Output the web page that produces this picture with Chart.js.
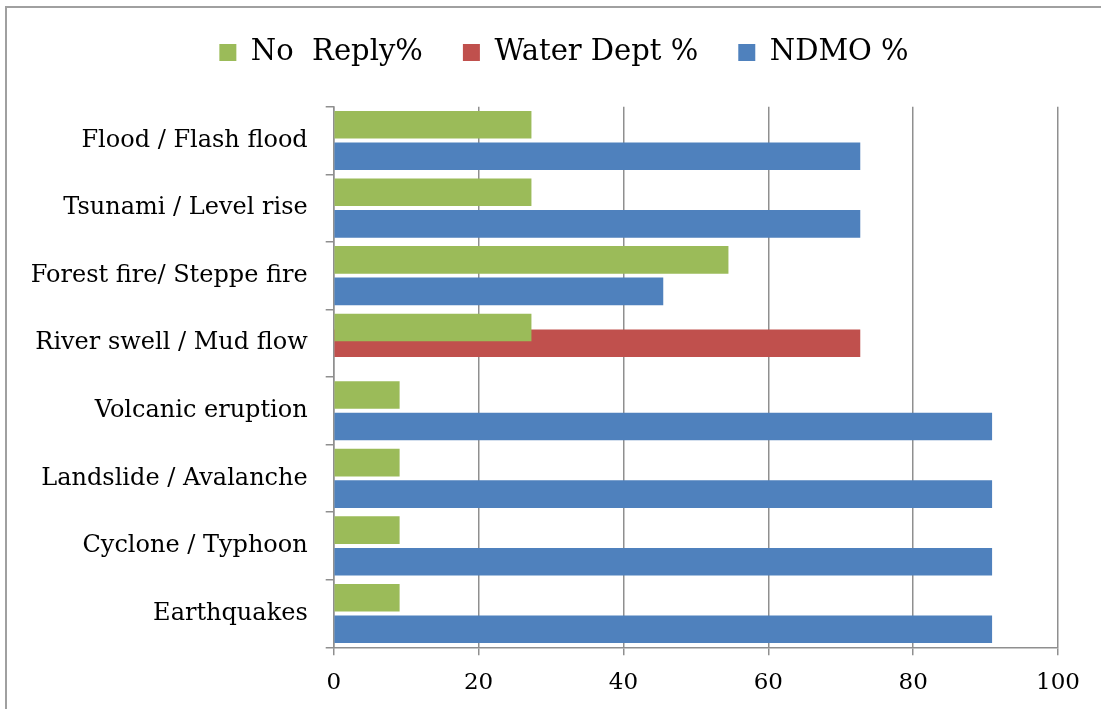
<!DOCTYPE html>
<html>
<head>
<meta charset="utf-8">
<script src="https://cdn.jsdelivr.net/npm/chart.js@4.4.1/dist/chart.umd.min.js"></script>
<style>
  body { margin: 0; background: #fff; overflow: hidden; }
  #frame { position: absolute; left: 5px; top: 6px; width: 1200px; height: 800px; border: 2px solid #a0a0a0; pointer-events: none; }
  #myChart { position: absolute; left: 0; top: 0; }
</style>
</head>
<body>
<canvas id="myChart" width="1101" height="709"></canvas>
<div id="frame"></div>
<script>
const categories = ['Flood / Flash flood', 'Tsunami / Level rise', 'Forest fire/ Steppe fire', 'River swell / Mud flow',
  'Volcanic eruption', 'Landslide / Avalanche', 'Cyclone / Typhoon', 'Earthquakes'];
const noReply = [27.3, 27.3, 54.5, 27.3, 9.1, 9.1, 9.1, 9.1];
const waterDept = [null, null, null, 72.7, null, null, null, null];
const ndmo = [72.7, 72.7, 45.5, null, 90.9, 90.9, 90.9, 90.9];
const xTicks = [0, 20, 40, 60, 80, 100];

const fontFamily = '"DejaVu Serif", serif';
const gridColor = '#8f8f8f';

// push the plot down below the legend and nudge the legend to the right
const legendMargin = {
  id: 'legendMargin',
  beforeInit(chart) {
    const fit = chart.legend.fit;
    chart.legend.fit = function () {
      fit.bind(chart.legend)();
      this.height += 29.7;
    };
  },
  afterLayout(chart) {
    chart.legend.left += 70;
  }
};

const ctx = document.getElementById('myChart');

const myChart = new Chart(ctx, {
  type: 'bar',
  data: {
    labels: categories,
    datasets: [
      { label: 'No  Reply%', data: noReply, backgroundColor: '#9bbb59' },
      { label: 'Water Dept %', data: waterDept, backgroundColor: '#c0504d' },
      { label: 'NDMO %', data: ndmo, backgroundColor: '#4f81bd' }
    ]
  },
  options: {
    responsive: false,
    animation: false,
    indexAxis: 'y',
    categoryPercentage: 0.70,
    barPercentage: 1.75,
    layout: { padding: { left: 0, right: 43, top: -2, bottom: 0 } },
    plugins: {
      legend: {
        position: 'top',
        labels: {
          boxWidth: 17,
          boxHeight: 17,
          padding: 40,
          color: '#000',
          font: { family: fontFamily, size: 29 }
        }
      },
      tooltip: { enabled: false }
    },
    scales: {
      x: {
        min: 0,
        max: 100,
        afterBuildTicks: scale => { scale.ticks = xTicks.map(v => ({ value: v })); },
        afterFit: scale => { scale.height = 61.7; },
        grid: { color: gridColor, lineWidth: 1.5, tickLength: 8 },
        border: { color: gridColor, width: 1.5 },
        ticks: { color: '#000', padding: 14, font: { family: fontFamily, size: 23 } }
      },
      y: {
        afterFit: scale => { scale.width = 333.7; },
        grid: { drawOnChartArea: false, offset: true, color: gridColor, lineWidth: 1.5, tickLength: 8 },
        border: { color: gridColor, width: 1.5 },
        ticks: { color: '#000', padding: 18, font: { family: fontFamily, size: 24 } }
      }
    }
  },
  plugins: [legendMargin]
});
</script>
</body>
</html>
